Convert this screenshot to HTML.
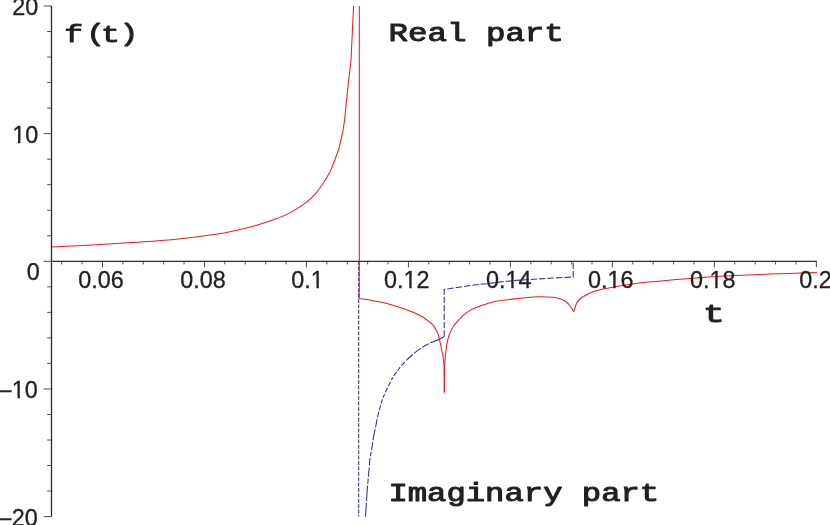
<!DOCTYPE html>
<html><head><meta charset="utf-8"><title>f(t) real and imaginary part</title>
<style>html,body{margin:0;padding:0;background:#fff;}svg{display:block;will-change:transform;}</style>
</head><body>
<svg width="830" height="525" viewBox="0 0 830 525">
<rect width="830" height="525" fill="#fff"/>
<defs><clipPath id="c0"><path clip-rule="evenodd" d="M-10 -10H840V535H-10ZM311.58 285.55H316.53V290.40H311.58ZM318.90 285.55H323.57V290.40H318.90Z"/></clipPath><clipPath id="c1"><path clip-rule="evenodd" d="M-10 -10H840V535H-10ZM404.36 285.55H409.31V290.40H404.36ZM411.68 285.55H416.35V290.40H411.68Z"/></clipPath><clipPath id="c2"><path clip-rule="evenodd" d="M-10 -10H840V535H-10ZM506.34 285.55H511.29V290.40H506.34ZM513.66 285.55H518.33V290.40H513.66Z"/></clipPath><clipPath id="c3"><path clip-rule="evenodd" d="M-10 -10H840V535H-10ZM608.32 285.55H613.27V290.40H608.32ZM615.64 285.55H620.31V290.40H615.64Z"/></clipPath><clipPath id="c4"><path clip-rule="evenodd" d="M-10 -10H840V535H-10ZM710.30 285.55H715.25V290.40H710.30ZM717.62 285.55H722.29V290.40H717.62Z"/></clipPath><clipPath id="c5"><path clip-rule="evenodd" d="M-10 -10H840V535H-10ZM13.05 140.65H18.01V145.50H13.05ZM20.37 140.65H25.04V145.50H20.37Z"/></clipPath><clipPath id="c6"><path clip-rule="evenodd" d="M-10 -10H840V535H-10ZM12.55 395.65H17.51V400.50H12.55ZM19.87 395.65H24.54V400.50H19.87Z"/></clipPath></defs>
<g fill="none" stroke="#2e3192" stroke-width="1.05">
<path d="M358.7 261.2 V516.5" stroke-dasharray="3.9 1.5"/>
<path d="M444.20 336.70 C443.03 337.28 439.43 339.18 437.20 340.20 C434.97 341.22 433.28 341.62 430.80 342.80 C428.32 343.98 425.10 345.53 422.30 347.30 C419.50 349.07 416.65 351.23 414.00 353.40 C411.35 355.57 408.52 358.25 406.40 360.30 C404.28 362.35 402.78 363.93 401.30 365.70 C399.82 367.47 398.83 369.10 397.50 370.90 C396.17 372.70 394.82 374.00 393.30 376.50 C391.78 379.00 389.77 383.17 388.40 385.90 C387.03 388.63 386.02 390.88 385.10 392.90 C384.18 394.92 383.57 396.18 382.90 398.00 C382.23 399.82 381.70 401.78 381.10 403.80 C380.50 405.82 379.90 407.83 379.30 410.10 C378.70 412.37 378.13 414.50 377.50 417.40 C376.87 420.30 376.08 424.65 375.50 427.50 C374.92 430.35 374.42 432.42 374.00 434.50 C373.58 436.58 373.37 437.67 373.00 440.00 C372.63 442.33 372.30 445.40 371.80 448.50 C371.30 451.60 370.43 455.35 370.00 458.60 C369.57 461.85 369.50 464.62 369.20 468.00 C368.90 471.38 368.55 474.92 368.20 478.90 C367.85 482.88 367.43 487.45 367.10 491.90 C366.77 496.35 366.47 501.50 366.20 505.60 C365.93 509.70 365.62 514.68 365.50 516.50" stroke-dasharray="15.35 1.8 7.06 1.8 8.54 1.8 8.76 1.8 5.41 1.8 4.29 1.8 4.93 1.8 2.94 1.8 4.74 1.8 5.04 1.8 4.34 1.8 4.16 1.8 5.15 1.8 5.78 1.8 8.21 1.8 11.61 1.8 7.95 1.8 4.48 1.8 7.65 1.8 9.45 1.8 5.41 1.8 15.02 1.8 14.96 5"/>
<path d="M444.2 336.7 V289.5 L444.20 289.50 C448.50 288.85 462.37 286.63 470.00 285.60 C477.63 284.57 483.33 284.08 490.00 283.30 C496.67 282.52 503.33 281.53 510.00 280.90 C516.67 280.27 523.33 279.95 530.00 279.50 C536.67 279.05 542.80 278.62 550.00 278.20 C557.20 277.78 569.33 277.20 573.20 277.00 V261.2" stroke-dasharray="6.4 2"/>
</g>
<g fill="none" stroke="#ed1c24" stroke-width="1.05" stroke-linejoin="round">
<path d="M51.80 247.00 C58.50 246.67 78.47 245.77 92.00 245.00 C105.53 244.23 119.33 243.33 133.00 242.40 C146.67 241.47 160.17 240.75 174.00 239.40 C187.83 238.05 205.67 235.80 216.00 234.30 C226.33 232.80 229.33 231.88 236.00 230.40 C242.67 228.92 249.67 227.20 256.00 225.40 C262.33 223.60 268.50 221.60 274.00 219.60 C279.50 217.60 283.67 216.23 289.00 213.40 C294.33 210.57 301.67 205.77 306.00 202.60 C310.33 199.43 312.08 197.67 315.00 194.40 C317.92 191.13 322.08 184.90 323.50 183.00 L330.10 171.80 L334.90 159.80 L339.20 147.70 L342.80 132.00 L344.60 120.00 L348.20 84.10 L351.00 60.50 L353.57 6.00"/>
<path d="M359.3 6.0 V298.5 L359.30 298.50 C361.42 298.83 367.72 299.75 372.00 300.50 C376.28 301.25 380.33 301.85 385.00 303.00 C389.67 304.15 395.83 306.07 400.00 307.40 C404.17 308.73 406.67 309.65 410.00 311.00 C413.33 312.35 417.58 314.28 420.00 315.50 C422.42 316.72 422.83 317.15 424.50 318.30 C426.17 319.45 428.57 321.25 430.00 322.40 C431.43 323.55 432.17 324.10 433.10 325.20 C434.03 326.30 434.78 327.58 435.60 329.00 C436.42 330.42 437.27 331.55 438.00 333.70 C438.73 335.85 439.42 339.35 440.00 341.90 C440.58 344.45 441.02 346.72 441.50 349.00 C441.98 351.28 442.55 353.60 442.90 355.60 C443.25 357.60 443.40 358.93 443.60 361.00 C443.80 363.07 443.98 362.73 444.10 368.00 C444.22 373.27 444.27 388.50 444.30 392.60"/>
<path d="M444.30 392.60 C444.33 388.50 444.38 373.27 444.50 368.00 C444.62 362.73 444.85 363.07 445.00 361.00 C445.15 358.93 445.17 357.85 445.40 355.60 C445.63 353.35 446.00 350.18 446.40 347.50 C446.80 344.82 447.12 342.13 447.80 339.50 C448.48 336.87 449.47 334.03 450.50 331.70 C451.53 329.37 452.83 327.23 454.00 325.50 C455.17 323.77 456.40 322.55 457.50 321.30 C458.60 320.05 459.52 319.12 460.60 318.00 C461.68 316.88 462.43 315.87 464.00 314.60 C465.57 313.33 468.00 311.57 470.00 310.40 C472.00 309.23 473.83 308.50 476.00 307.60 C478.17 306.70 479.67 306.07 483.00 305.00 C486.33 303.93 491.50 302.12 496.00 301.20 C500.50 300.28 506.00 300.00 510.00 299.50 C514.00 299.00 516.67 298.58 520.00 298.20 C523.33 297.82 527.00 297.43 530.00 297.20 C533.00 296.97 535.33 296.85 538.00 296.80 C540.67 296.75 543.17 296.78 546.00 296.90 C548.83 297.02 552.33 297.07 555.00 297.50 C557.67 297.93 560.00 298.67 562.00 299.50 C564.00 300.33 565.67 301.42 567.00 302.50 C568.33 303.58 569.17 304.92 570.00 306.00 C570.83 307.08 571.38 308.08 572.00 309.00 C572.62 309.92 573.42 311.08 573.70 311.50"/>
<path d="M573.70 311.50 C573.92 310.92 574.53 309.33 575.00 308.00 C575.47 306.67 575.67 305.00 576.50 303.50 C577.33 302.00 578.42 300.42 580.00 299.00 C581.58 297.58 583.83 296.20 586.00 295.00 C588.17 293.80 590.67 292.67 593.00 291.80 C595.33 290.93 596.17 290.70 600.00 289.80 C603.83 288.90 610.00 287.47 616.00 286.40 C622.00 285.33 629.33 284.23 636.00 283.40 C642.67 282.57 649.33 282.03 656.00 281.40 C662.67 280.77 669.33 280.17 676.00 279.60 C682.67 279.03 687.67 278.60 696.00 278.00 C704.33 277.40 713.67 276.65 726.00 276.00 C738.33 275.35 754.83 274.67 770.00 274.10 C785.17 273.53 809.17 272.85 817.00 272.60"/>
</g>
<g stroke="#231f20" fill="none">
<path d="M51.5 6.0 V516.6" stroke-width="1.3" stroke="#2e2b2c"/>
<path d="M51.5 261.3 H816.8" stroke-width="1.15" stroke="#2e2b2c"/>
<path d="M43.5 516.60 H51.5M47.2 491.07 H51.5M47.2 465.54 H51.5M47.2 440.01 H51.5M47.2 414.48 H51.5M43.5 388.95 H51.5M47.2 363.42 H51.5M47.2 337.89 H51.5M47.2 312.36 H51.5M47.2 286.83 H51.5M43.5 261.30 H51.5M47.2 235.77 H51.5M47.2 210.24 H51.5M47.2 184.71 H51.5M47.2 159.18 H51.5M43.5 133.65 H51.5M47.2 108.12 H51.5M47.2 82.59 H51.5M47.2 57.06 H51.5M47.2 31.53 H51.5M43.5 6.00 H51.5" stroke-width="0.8"/>
<path d="M61.70 261.3 V264.4M82.09 261.3 V264.4M102.49 261.3 V267.4M122.89 261.3 V264.4M143.28 261.3 V264.4M163.68 261.3 V264.4M184.07 261.3 V264.4M204.47 261.3 V267.4M224.87 261.3 V264.4M245.26 261.3 V264.4M265.66 261.3 V264.4M286.05 261.3 V264.4M306.45 261.3 V267.4M326.85 261.3 V264.4M347.24 261.3 V264.4M367.64 261.3 V264.4M388.03 261.3 V264.4M408.43 261.3 V267.4M428.83 261.3 V264.4M449.22 261.3 V264.4M469.62 261.3 V264.4M490.01 261.3 V264.4M510.41 261.3 V267.4M530.81 261.3 V264.4M551.20 261.3 V264.4M571.60 261.3 V264.4M591.99 261.3 V264.4M612.39 261.3 V267.4M632.79 261.3 V264.4M653.18 261.3 V264.4M673.58 261.3 V264.4M693.97 261.3 V264.4M714.37 261.3 V267.4M734.77 261.3 V264.4M755.16 261.3 V264.4M775.56 261.3 V264.4M795.95 261.3 V264.4M816.35 261.3 V267.4" stroke-width="0.8"/>
</g>
<g font-family="'Liberation Sans', sans-serif" font-size="23.4" fill="#231f20" stroke="#231f20" stroke-width="0.3">
<text x="100.9" y="287.9" text-anchor="middle">0.06</text>
<text x="202.9" y="287.9" text-anchor="middle">0.08</text>
<text x="307.6" y="287.9" text-anchor="middle" clip-path="url(#c0)">0.1</text>
<text x="406.8" y="287.9" text-anchor="middle" clip-path="url(#c1)">0.12</text>
<text x="508.8" y="287.9" text-anchor="middle" clip-path="url(#c2)">0.14</text>
<text x="610.8" y="287.9" text-anchor="middle" clip-path="url(#c3)">0.16</text>
<text x="712.8" y="287.9" text-anchor="middle" clip-path="url(#c4)">0.18</text>
<text x="815.4" y="287.9" text-anchor="middle">0.2</text>
<text x="38.3" y="14.8" text-anchor="end">20</text>
<text x="38.3" y="143.0" text-anchor="end" clip-path="url(#c5)">10</text>
<text x="39.8" y="280.2" text-anchor="end">0</text>
<text x="37.8" y="398.0" text-anchor="end" clip-path="url(#c6)">10</text>
<text x="37.8" y="525.8" text-anchor="end">20</text>
<text x="-0.9" y="399.05">−</text>
<text x="-0.9" y="527.05">−</text>
</g>
<g font-family="'Liberation Mono', monospace" font-size="25.8" fill="#231f20" stroke="#231f20" stroke-width="1" stroke-linejoin="round">
<text transform="translate(64.30 41.90) scale(1.215 0.9)" dx="0 2.6 -3.4 -0.2" dy="0 -0.6 0.6 -0.6">f(t)</text>
<text transform="translate(388.40 41.30) scale(1.26 1)">Real part</text>
<text transform="translate(388.40 501.00) scale(1.25 1)">Imaginary part</text>
<text transform="translate(702.90 322.10) scale(1.4 1)">t</text>
</g>
</svg>
</body></html>
